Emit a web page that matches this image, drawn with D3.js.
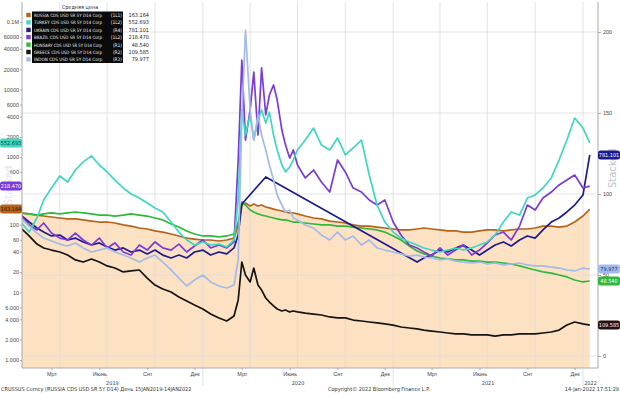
<!DOCTYPE html>
<html>
<head>
<meta charset="utf-8">
<script src="https://cdn.jsdelivr.net/npm/d3@7"></script>
<style>
  body { margin: 0; background: #fff; }
  svg { display: block; font-family: "DejaVu Sans Condensed", "Liberation Sans Narrow", "Liberation Sans", sans-serif; }
  .axis text { fill: #444; }
  .axis path, .axis line { stroke: #aaa; }
</style>
</head>
<body>
<div id="graph"></div>
<script>
// semi-monthly sample dates (weekly around the March 2020 spike)
var dates = [
  '2019-01-16','2019-02-01','2019-02-16','2019-03-01','2019-03-16','2019-04-01','2019-04-16','2019-05-01','2019-05-16','2019-06-01',
  '2019-06-16','2019-07-01','2019-07-16','2019-08-01','2019-08-16','2019-09-01','2019-09-16','2019-10-01','2019-10-16','2019-11-01',
  '2019-11-16','2019-12-01','2019-12-16','2020-01-01','2020-01-16','2020-02-01','2020-02-16','2020-03-01','2020-03-09','2020-03-16',
  '2020-03-23','2020-04-01','2020-04-08','2020-04-16','2020-04-23','2020-05-01','2020-05-08','2020-05-16','2020-05-23','2020-06-01',
  '2020-06-08','2020-06-16','2020-06-23','2020-07-01','2020-07-16','2020-08-01','2020-08-16','2020-09-01','2020-09-16','2020-10-01',
  '2020-10-16','2020-11-01','2020-11-16','2020-12-01','2020-12-16','2021-01-01','2021-01-16','2021-02-01','2021-02-16','2021-03-01',
  '2021-03-16','2021-04-01','2021-04-16','2021-05-01','2021-05-16','2021-06-01','2021-06-16','2021-07-01','2021-07-16','2021-08-01',
  '2021-08-16','2021-09-01','2021-09-16','2021-10-01','2021-10-16','2021-11-01','2021-11-16','2021-12-01','2021-12-16','2022-01-01',
  '2022-01-14'
];

// values in right-axis units
var russia = [
  88.3,87.7,87,86.4,85.8,85.2,84.6,84.6,84,83.3, 82.7,82.7,82.1,80.9,80.2,79,78.4,77.2,76.5,75.3,
  74.1,72.8,72.2,71.6,71.6,71,71.6,72.8,80.9,93.2, 94.4,92.6,93.8,92.6,93.2,92,91.4,90.7,90.1,89.5,
  88.9,88.3,88.3,87.7,86.4,85.2,84.6,83.3,82.7,82.1, 80.9,80.2,80.2,79.6,79,78.4,77.8,77.8,78.4,79,
  78.4,77.8,77.2,77.2,76.5,76.5,77.2,77.8,77.8,77.2, 77.8,78.4,78.4,79,80.2,80.2,79.6,80.2,82.7,86.4,
  90.7
];
var turkey = [
  82.7,76.5,85.2,96.3,103.7,111.1,107.4,114.8,119.8,123.5, 117.9,113.6,108.6,103.7,100,97.5,94.4,91.4,88.9,82.7,
  76.5,71.6,68.5,70.4,68.5,69.1,67.3,71.6,96.3,151.9, 136.4,148.8,133.3,145.7,151.9,143.8,150.6,136.4,127.2,117.9,
  113.6,116.7,121,127.2,133.3,140.7,130.2,127.2,134.6,124.1, 128.4,133.3,111.7,93.2,82.7,76.5,72.8,70.4,68.5,66.7,
  65.4,64.2,65.4,66.7,65.4,66.7,68.5,70.4,74.7,82.7, 88.9,87,97.5,99.4,103.7,109.9,121,133.3,146.9,140.7,
  131.5
];
var ukraine = [
  87,82.7,79,76.5,74.1,74.7,71.6,72.8,70.4,68.5, 69.8,67.3,65.4,66.7,64.2,65.4,63,65.4,62.3,60.5,
  62.3,60.5,64.2,65.4,62.3,64.2,63,66.7,74.7,93.8, null,null,null,null,null,110.5,null,null,null,null,
  null,null,null,null,null,null,null,null,null,null, null,null,null,null,null,null,null,null,58,60.5,
  62.3,65.4,64.2,66.7,68.5,65.4,62.3,65.4,68.5,70.4, 67.9,71.6,74.1,72.8,77.8,82.7,85.2,88.9,93.2,99.4,
  124.1
];
var brazil = [
  87,80.9,77.8,82.1,75.9,72.8,71.6,75.9,71.6,68.5, 72.8,66.7,69.8,64.2,62.3,68.5,65.4,70.4,66.7,65.4,
  69.1,64.2,67.9,71.6,66.7,68.5,66.7,70.4,121,182.7, 133.3,151.9,175.3,136.4,177.8,148.8,161.1,167.3,158,139.5,
  130.2,122.2,127.2,117.9,109.9,114.8,107.4,101.2,121,113.6, 103.7,101.2,96.3,93.2,96.3,82.7,74.7,68.5,66.7,64.2,
  61.7,66.7,62.3,65.4,68.5,62.3,65.4,69.8,74.7,76.5, 71.6,80.2,93.2,90.1,97.5,101.2,105.6,108.6,111.7,103.7,
  104.9
];
var hungary = [
  88.3,87.7,87,87.7,88.3,87.7,88.3,88.9,88.3,87.7, 87,87,86.4,87,87.7,87,86.4,85.2,84,81.5,
  79.6,77.2,75.3,74.1,74.1,73.5,74.1,75.3,82.7,95.1, 93.2,90.1,88.9,87.7,87,86.4,85.8,85.2,84.6,84,
  84,83.3,82.7,82.7,82.1,81.5,80.9,80.9,80.2,80.2, 79.6,79,78.4,77.8,76.5,74.1,71.6,67.9,64.8,63,
  61.7,60.5,59.9,59.3,59.3,58.6,58.6,58,58,57.4, 56.8,55.6,54.3,53.1,51.9,51.2,50,48.8,46.9,45.7,
  46.3
];
var greece = [
  79,74.1,69.1,66.7,65.4,64.2,62.3,59.3,58,59.9, 58,55.6,54.3,51.9,52.5,53.1,48.1,43.8,41.4,39.5,
  36.4,34,31.5,29,25.9,23.5,21.6,24.7,34.6,58, 50,45.7,54.3,43.8,40.7,35.8,33.3,30.9,29,27.8,
  28.4,27.2,27.8,27.2,26.5,25.9,25.3,24.1,23.5,23.5, 22.2,21.6,21,20.4,19.8,19.1,17.9,17.3,16.7,16,
  15.4,14.8,14.2,13.6,13.6,13,13,13,12.3,13, 13,13.6,13.6,13.6,14.2,14.8,16,19.1,21,19.8,
  19.1
];
var indon = [
  85.2,80.2,75.9,72.8,71,69.1,67.9,69.8,66.7,64.2, 65.4,66.7,64.2,62.3,60.5,58,60.5,62.3,58,53.1,
  48.1,43.2,46.9,50,45.7,43.2,42,43.8,59.3,145.7, 201.2,151.9,133.3,148.8,136.4,127.2,117.9,108.6,99.4,93.2,
  88.9,90.1,85.2,84,80.9,79,74.7,71.6,76.5,71.6, 74.1,68.5,71.6,66.7,65.4,64.2,63,61.7,62.3,61.1,
  60.5,59.3,59.9,58.6,58,57.4,58,56.8,57.4,56.2, 56.8,57.4,56.2,55.6,55.6,54.9,54.3,53.1,52.5,54.3,
  53.7
];

// left log axis: 200 and 400 sit under the value tags, so they carry no label
var leftTicks = [1, 2, 4, 6, 10, 20, 40, 60, 100, 200, 400, 600, 1000, 2000, 4000, 6000, 10000, 20000, 40000, 60000, 100000];
var leftTickLabels = ['1.000','2.000','4.000','6.000','10','20','40','60','100','','','600','1000','2000','4000','6000','10000','20000','40000','60000','0.1M'];
var rightTicks = [0, 50, 100, 150, 200];
var monthTicks = ['2019-03-16','2019-06-16','2019-09-16','2019-12-16','2020-03-16','2020-06-16','2020-09-16','2020-12-16',
                  '2021-03-16','2021-06-16','2021-09-16','2021-12-16'];
var monthLabels = ['Мрт','Июнь','Снт','Дек','Мрт','Июнь','Снт','Дек','Мрт','Июнь','Снт','Дек'];
var years = ['2019','2020','2021','2022'];

var series = [
  {key: 'russia',  label: 'RUSSIA CDS USD SR 5Y D14 Corp',  src: '(1L1)', last: '163.164', values: russia,  color: '#b5641d', side: 'left',  tagText: '#2a1200'},
  {key: 'turkey',  label: 'TURKEY CDS USD SR 5Y D14 Corp',  src: '(1L2)', last: '552.693', values: turkey,  color: '#3fd6c2', side: 'left',  tagText: '#0c3b36'},
  {key: 'ukraine', label: 'UKRAIN CDS USD SR 5Y D14 Corp',  src: '(R4)',  last: '781.101', values: ukraine, color: '#1c1c8c', side: 'right', tagText: '#fff'},
  {key: 'brazil',  label: 'BRAZIL CDS USD SR 5Y D14 Corp',  src: '(1L2)', last: '218.470', values: brazil,  color: '#7b3bd6', side: 'left',  tagText: '#fff'},
  {key: 'hungary', label: 'HUNGARY CDS USD SR 5Y D14 Corp', src: '(R1)',  last: '48.540',  values: hungary, color: '#2fb83a', side: 'right', tagText: '#fff'},
  {key: 'greece',  label: 'GREECE CDS USD SR 5Y D14 Corp',  src: '(R2)',  last: '109.585', values: greece,  color: '#141414', side: 'right', tagText: '#fff'},
  {key: 'indon',   label: 'INDON CDS USD SR 5Y D14 Corp',   src: '(R3)',  last: '79.977',  values: indon,   color: '#a3bbe8', side: 'right', tagText: '#1c2f6a'}
];

var parseDate = d3.timeParse('%Y-%m-%d');
var width = 620, height = 393;
var plot = {left: 22, right: 598, top: 2, bottom: 368};

var x = d3.scaleTime()
  .domain([parseDate('2019-01-01'), parseDate('2022-01-01')])
  .range([13, 583]);
var y = d3.scaleLinear().domain([0, 200]).range([356, 32]);
var yLog = d3.scaleLog().domain([1, 100000]).range([360, 22]);

var svg = d3.select('#graph').append('svg')
  .attr('width', width)
  .attr('height', height);

svg.append('defs').append('clipPath').attr('id', 'clip')
  .append('rect')
  .attr('x', plot.left).attr('y', plot.top)
  .attr('width', plot.right - plot.left).attr('height', plot.bottom - plot.top);

function points(vals) {
  return dates.map(function(d, i) { return {date: parseDate(d), v: vals[i]}; })
    .filter(function(d) { return d.v != null; });
}

var chart = svg.append('g').attr('clip-path', 'url(#clip)');

// peach area under Russia
var area = d3.area()
  .x(function(d) { return x(d.date); })
  .y0(plot.bottom)
  .y1(function(d) { return y(d.v); });
chart.append('path')
  .datum(points(russia))
  .attr('fill', '#fde1c3')
  .attr('d', area);

// grid
var quarterStarts = d3.timeMonth.every(3).range(parseDate('2019-04-01'), parseDate('2022-01-02'));
chart.selectAll('.vgrid').data(quarterStarts).enter().append('line')
  .attr('x1', function(d) { return x(d); }).attr('x2', function(d) { return x(d); })
  .attr('y1', plot.top).attr('y2', plot.bottom)
  .attr('stroke', '#dcdcdc').attr('stroke-width', 0.8);
chart.selectAll('.hgrid').data(rightTicks).enter().append('line')
  .attr('x1', plot.left).attr('x2', plot.right)
  .attr('y1', function(d) { return y(d); }).attr('y2', function(d) { return y(d); })
  .attr('stroke', '#dcdcdc').attr('stroke-width', 0.8);

// lines
var line = d3.line()
  .x(function(d) { return x(d.date); })
  .y(function(d) { return y(d.v); });

['russia','hungary','greece','ukraine','brazil','turkey','indon'].forEach(function(k) {
  var s = series.filter(function(s) { return s.key === k; })[0];
  chart.append('path')
    .datum(points(s.values))
    .attr('fill', 'none')
    .attr('stroke', s.color)
    .attr('stroke-width', 1.7)
    .attr('stroke-linejoin', 'round')
    .attr('d', line);
});

// left log axis
var gLeft = svg.append('g')
  .attr('class', 'axis')
  .attr('transform', 'translate(' + plot.left + ',0)')
  .call(d3.axisLeft(yLog).tickValues(leftTicks).tickSize(2).tickPadding(1)
    .tickFormat(function(d, i) { return leftTickLabels[i]; }));
gLeft.select('.domain').attr('d', 'M0,' + plot.top + 'V' + plot.bottom);
gLeft.selectAll('text').style('font-size', '5.5px');

// right axis
var gRight = svg.append('g')
  .attr('class', 'axis')
  .attr('transform', 'translate(' + plot.right + ',0)')
  .call(d3.axisRight(y).tickValues(rightTicks).tickSize(3).tickPadding(2));
gRight.select('.domain').attr('d', 'M0,' + plot.top + 'V' + plot.bottom);
gRight.selectAll('text').style('font-size', '5.5px');

// bottom axis
var gBottom = svg.append('g')
  .attr('class', 'axis')
  .attr('transform', 'translate(0,' + plot.bottom + ')')
  .call(d3.axisBottom(x).tickValues(monthTicks.map(parseDate)).tickSize(2).tickPadding(2)
    .tickFormat(function(d, i) { return monthLabels[i]; }));
gBottom.select('.domain').attr('d', 'M' + plot.left + ',0H' + plot.right);
gBottom.selectAll('text').style('font-size', '5.5px');

// year labels and separators
years.forEach(function(yr, i) {
  var start = parseDate(yr + '-01-01');
  var end = parseDate((+yr + 1) + '-01-01');
  var x0 = Math.max(x(start), plot.left), x1 = Math.min(x(end), plot.right);
  svg.append('text')
    .attr('x', (x0 + x1) / 2).attr('y', 385)
    .attr('text-anchor', 'middle')
    .style('font-size', '5.5px').attr('fill', '#444')
    .text(yr);
  if (i > 0) {
    svg.append('line')
      .attr('x1', x(start)).attr('x2', x(start))
      .attr('y1', plot.bottom).attr('y2', 386)
      .attr('stroke', '#ccc').attr('stroke-width', 0.6);
  }
});

// faint "Stacked" watermarks
svg.append('text')
  .attr('transform', 'translate(616,188) rotate(-90)')
  .style('font-size', '11px').attr('fill', '#bcbccd')
  .text('Stacked');
svg.append('text')
  .attr('transform', 'translate(12,205) rotate(-90)')
  .style('font-size', '11px').attr('fill', '#e4e4ec')
  .text('Stacked');

// value tags at the last value of each series
series.forEach(function(s) {
  var lastVal = s.values[s.values.length - 1];
  var ty = y(lastVal);
  var tx = s.side === 'left' ? 0 : plot.right;
  var g = svg.append('g').attr('transform', 'translate(' + tx + ',' + ty + ')');
  g.append('rect')
    .attr('x', 0).attr('y', -4.5).attr('width', 22).attr('height', 9).attr('rx', 2.5)
    .attr('fill', s.key === 'greece' ? '#2b0d0d' : s.color);
  g.append('text')
    .attr('x', 11).attr('y', 2)
    .attr('text-anchor', 'middle')
    .style('font-size', '5.5px')
    .attr('fill', s.tagText)
    .text(s.last);
});

// legend
var legend = svg.append('g');
legend.append('text')
  .attr('x', 80).attr('y', 8.5)
  .attr('text-anchor', 'middle')
  .style('font-size', '5.5px').attr('fill', '#333')
  .text('Средняя цена');
legend.append('rect')
  .attr('x', 32).attr('y', 11.5).attr('width', 91).attr('height', 51.5)
  .attr('fill', '#0a0a0a');
series.forEach(function(s, i) {
  var ry = 15 + i * 7.4;
  legend.append('rect')
    .attr('x', 26).attr('y', ry - 2.5).attr('width', 5).attr('height', 5)
    .attr('fill', s.color).attr('stroke', '#fff').attr('stroke-width', 0.6);
  legend.append('text')
    .attr('x', 34).attr('y', ry + 2)
    .attr('textLength', 68).attr('lengthAdjust', 'spacingAndGlyphs')
    .style('font-size', '4.5px').attr('fill', '#eee')
    .text(s.label);
  legend.append('text')
    .attr('x', 122).attr('y', ry + 2)
    .attr('text-anchor', 'end')
    .style('font-size', '4.8px').attr('fill', '#eee')
    .text(s.src);
  legend.append('text')
    .attr('x', 149).attr('y', ry + 2)
    .attr('text-anchor', 'end')
    .style('font-size', '5.5px').attr('fill', '#222')
    .text(s.last);
});

// footer
var footer = svg.append('g').style('font-size', '5.5px').attr('fill', '#333');
footer.append('text').attr('x', 1).attr('y', 391)
  .text('CRUSSUS Curncy (RUSSIA CDS USD SR 5Y D14)  День 15JAN2019-14JAN2022');
footer.append('text').attr('x', 328).attr('y', 391)
  .text('Copyright© 2022 Bloomberg Finance L.P.');
footer.append('text').attr('x', 619).attr('y', 391).attr('text-anchor', 'end')
  .text('14-Jan-2022 17:51:29');
</script>
</body>
</html>
